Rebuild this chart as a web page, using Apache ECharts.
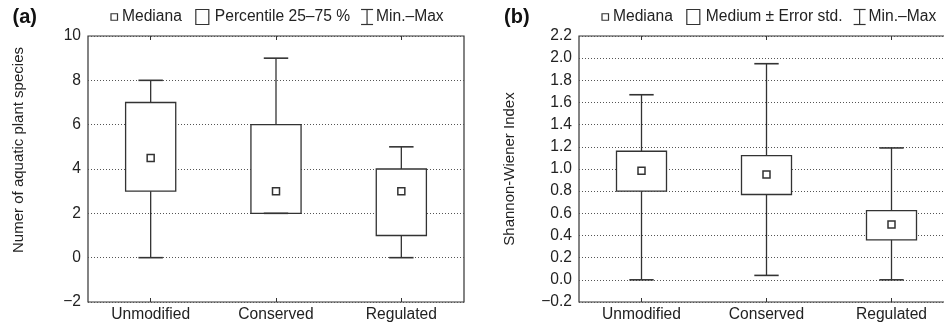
<!DOCTYPE html>
<html>
<head>
<meta charset="utf-8">
<script src="https://cdn.jsdelivr.net/npm/echarts@6/dist/echarts.min.js"></script>
<style>html,body{margin:0;padding:0;background:#fff}#c{width:944px;height:326px}</style>
</head>
<body>
<div id="c"></div>
<script>
// ---------- data ----------
const categories = ['Unmodified', 'Conserved', 'Regulated'];

// panel (a): number of aquatic plant species
const aMin    = [0, 2, 0];
const aQ1     = [3, 2, 1];
const aMedian = [4.5, 3, 3];
const aQ3     = [7, 6, 4];
const aMax    = [8, 9, 5];
const aAxis   = { min: -2, max: 10, step: 2 };

// panel (b): Shannon-Wiener index
const bMin    = [0.0, 0.04, 0.0];
const bLow    = [0.80, 0.77, 0.36];
const bMedian = [0.985, 0.95, 0.50];
const bHigh   = [1.16, 1.12, 0.625];
const bMax    = [1.67, 1.95, 1.19];
const bAxis   = { min: -0.2, max: 2.2, step: 0.2 };

const aTitle = '(a)';
const bTitle = '(b)';
const aYName = 'Numer of aquatic plant species';
const bYName = 'Shannon-Wiener Index';
const aLegend = ['Mediana', 'Percentile 25\u201375 %', 'Min.\u2013Max'];
const bLegend = ['Mediana', 'Medium \u00b1 Error std.', 'Min.\u2013Max'];

// ---------- styles ----------
const FONT = '"Liberation Sans", Arial, Helvetica, sans-serif';
const FS = 15.6;
const INK = '#333';
const TXT = '#222';

const chart = echarts.init(document.getElementById('c'), null, { renderer: 'canvas' });

function renderBox(params, api) {
  const i = api.value(0);
  const cx = api.coord([i, api.value(3)])[0];
  const band = api.size([1, 0])[0];
  const y = k => api.coord([i, api.value(k)])[1];
  const yMin = y(1), yLo = y(2), yMed = y(3), yHi = y(4), yMax = y(5);
  const bw = band * 0.4, cw = band * 0.195, ms = 7;
  const st = { stroke: INK, lineWidth: 1.3, fill: null };
  return {
    type: 'group',
    children: [
      { type: 'rect', shape: { x: cx - bw / 2, y: yHi, width: bw, height: yLo - yHi },
        style: { fill: '#fff', stroke: INK, lineWidth: 1.3 } },
      { type: 'line', shape: { x1: cx, y1: yMax, x2: cx, y2: yHi }, style: st },
      { type: 'line', shape: { x1: cx, y1: yLo, x2: cx, y2: yMin }, style: st },
      { type: 'line', shape: { x1: cx - cw / 2, y1: yMax, x2: cx + cw / 2, y2: yMax }, style: { stroke: INK, lineWidth: 1.6 } },
      { type: 'line', shape: { x1: cx - cw / 2, y1: yMin, x2: cx + cw / 2, y2: yMin }, style: { stroke: INK, lineWidth: 1.6 } },
      { type: 'rect', shape: { x: cx - ms / 2, y: yMed - ms / 2, width: ms, height: ms },
        style: { fill: '#fff', stroke: INK, lineWidth: 1.5 } }
    ]
  };
}

const measureCtx = document.createElement('canvas').getContext('2d');
function textW(t, size) { measureCtx.font = size + 'px ' + FONT; return measureCtx.measureText(t).width; }

function legendGraphics(x0, yc, labels) {
  const els = [];
  let x = x0;
  const ts = { fill: TXT, font: FS + 'px ' + FONT, verticalAlign: 'middle', align: 'left' };
  els.push({ type: 'rect', shape: { x: x, y: yc - 3.25, width: 6.5, height: 6.5 }, style: { fill: '#fff', stroke: INK, lineWidth: 1.2 } });
  x += 6.5 + 4.5;
  els.push({ type: 'text', x: x, y: yc, style: Object.assign({ text: labels[0] }, ts) });
  x += textW(labels[0], FS) + 14;
  els.push({ type: 'rect', shape: { x: x, y: yc - 7.5, width: 13, height: 15 }, style: { fill: '#fff', stroke: INK, lineWidth: 1.2 } });
  x += 13 + 6;
  els.push({ type: 'text', x: x, y: yc, style: Object.assign({ text: labels[1] }, ts) });
  x += textW(labels[1], FS) + 11;
  els.push({ type: 'polyline', shape: { points: [[x, yc - 7.5], [x + 12, yc - 7.5]] }, style: { stroke: INK, lineWidth: 1.2, fill: null } });
  els.push({ type: 'polyline', shape: { points: [[x + 6, yc - 7.5], [x + 6, yc + 7.5]] }, style: { stroke: INK, lineWidth: 1.2, fill: null } });
  els.push({ type: 'polyline', shape: { points: [[x, yc + 7.5], [x + 12, yc + 7.5]] }, style: { stroke: INK, lineWidth: 1.2, fill: null } });
  x += 12 + 3;
  els.push({ type: 'text', x: x, y: yc, style: Object.assign({ text: labels[2] }, ts) });
  return els;
}

function yAxisDef(gridIndex, ax, decimals) {
  return {
    type: 'value', gridIndex: gridIndex,
    min: ax.min, max: ax.max, interval: ax.step,
    axisLine: { show: false }, axisTick: { show: false },
    axisLabel: {
      color: TXT, fontSize: FS, fontFamily: FONT, margin: 7,
      formatter: v => {
        const r = Math.round(v * 10) / 10;
        return (r < 0 ? '\u2212' : '') + Math.abs(r).toFixed(decimals);
      }
    },
    splitLine: { show: true, lineStyle: { color: '#555', width: 1, type: [1, 2] } }
  };
}
function xAxisDef(gridIndex, pos) {
  const bottom = pos === 'bottom';
  return {
    type: 'category', gridIndex: gridIndex, position: pos, data: categories,
    axisLine: { show: false, onZero: false },
    axisTick: { show: true, inside: true, length: 4, alignWithLabel: true, lineStyle: { color: INK, width: 1 } },
    axisLabel: { show: bottom, color: TXT, fontSize: FS, fontFamily: FONT, margin: 5 },
    splitLine: { show: false }
  };
}

const option = {
  animation: false,
  backgroundColor: '#fff',
  grid: [
    { left: 88, top: 36, width: 376, height: 266, show: true, borderColor: INK, borderWidth: 1.2,
      backgroundColor: 'transparent', outerBoundsMode: 'none', containLabel: false },
    { left: 579, top: 36, width: 375, height: 266, show: true, borderColor: INK, borderWidth: 1.2,
      backgroundColor: 'transparent', outerBoundsMode: 'none', containLabel: false }
  ],
  xAxis: [xAxisDef(0, 'bottom'), xAxisDef(0, 'top'), xAxisDef(1, 'bottom'), xAxisDef(1, 'top')],
  yAxis: [yAxisDef(0, aAxis, 0), yAxisDef(1, bAxis, 1)],
  series: [
    {
      type: 'custom', name: 'a', xAxisIndex: 0, yAxisIndex: 0, renderItem: renderBox,
      encode: { x: 0, y: [1, 2, 3, 4, 5] },
      data: categories.map((c, i) => [i, aMin[i], aQ1[i], aMedian[i], aQ3[i], aMax[i]])
    },
    {
      type: 'custom', name: 'b', xAxisIndex: 2, yAxisIndex: 1, renderItem: renderBox,
      encode: { x: 0, y: [1, 2, 3, 4, 5] },
      data: categories.map((c, i) => [i, bMin[i], bLow[i], bMedian[i], bHigh[i], bMax[i]])
    }
  ],
  graphic: [
    { type: 'text', x: 12.5, y: 17, style: { text: aTitle, fill: '#111', font: 'bold 20px ' + FONT, verticalAlign: 'middle' } },
    { type: 'text', x: 504, y: 17, style: { text: bTitle, fill: '#111', font: 'bold 20px ' + FONT, verticalAlign: 'middle' } },
    { type: 'text', x: 18.5, y: 150, rotation: Math.PI / 2,
      style: { text: aYName, fill: TXT, font: '15px ' + FONT, align: 'center', verticalAlign: 'middle' } },
    { type: 'text', x: 509.5, y: 169, rotation: Math.PI / 2,
      style: { text: bYName, fill: TXT, font: '15px ' + FONT, align: 'center', verticalAlign: 'middle' } }
  ].concat(legendGraphics(111, 17, aLegend), legendGraphics(602, 17, bLegend))
};
chart.setOption(option);
</script>
</body>
</html>
